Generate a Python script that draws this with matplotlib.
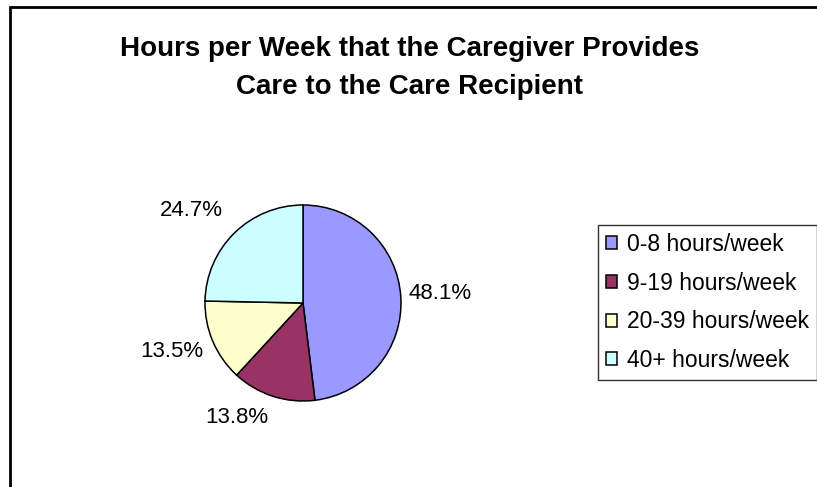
import matplotlib
matplotlib.use('Agg')
import matplotlib.pyplot as plt
from matplotlib.patches import Rectangle

TITLE = 'Hours per Week that the Caregiver Provides\nCare to the Care Recipient'
categories = ['0-8 hours/week', '9-19 hours/week', '20-39 hours/week', '40+ hours/week']
shares = [48.1, 13.8, 13.5, 24.7]
colors = ['#9999FF', '#993366', '#FFFFCC', '#CCFFFF']

# label placement (pie radius units), Excel puts them a bit off the mid-angle
label_pos = [(1.40, 0.10), (-0.68, -1.17), (-1.34, -0.49), (-1.14, 0.94)]

plt.rcParams['font.family'] = ['Liberation Sans', 'DejaVu Sans']

W, H = 817, 487
fig = plt.figure(figsize=(W / 100, H / 100), dpi=100)

# outer chart border (runs off the right and bottom of the image)
fig.patches.append(Rectangle((10 / W, -0.5), 2.0, 1.5 - 7 / H,
                             transform=fig.transFigure, fill=False,
                             edgecolor='black', linewidth=2))

fig.text(410 / W, 1 - 68 / H, TITLE, ha='center', va='center',
         fontsize=20, fontweight='bold', linespacing=1.55)

# pie axes: centre (303, 303) px, radius ~98 px
r = 98
ax = fig.add_axes([(303 - r) / W, (H - 303 - r) / H, 2 * r / W, 2 * r / H])
wedges, _ = ax.pie(shares, colors=colors, startangle=90, counterclock=False,
                   radius=1, wedgeprops=dict(edgecolor='black', linewidth=1.1))
ax.set_xlim(-1, 1)
ax.set_ylim(-1, 1)
ax.set_aspect('equal')
ax.axis('off')

for (x, y), v in zip(label_pos, shares):
    ax.text(x, y, '%.1f%%' % v, ha='center', va='center', fontsize=16,
            clip_on=False)

leg = fig.legend(wedges, categories, loc='upper left',
                 bbox_to_anchor=(598 / W, 1 - 225 / H), fontsize=16.5,
                 frameon=True, fancybox=False, edgecolor='black',
                 handlelength=0.5, handleheight=0.5, handletextpad=0.4,
                 labelspacing=0.68, borderpad=0.35, borderaxespad=0)
leg.get_frame().set_linewidth(1.0)

fig.savefig('out.png', dpi=100)
